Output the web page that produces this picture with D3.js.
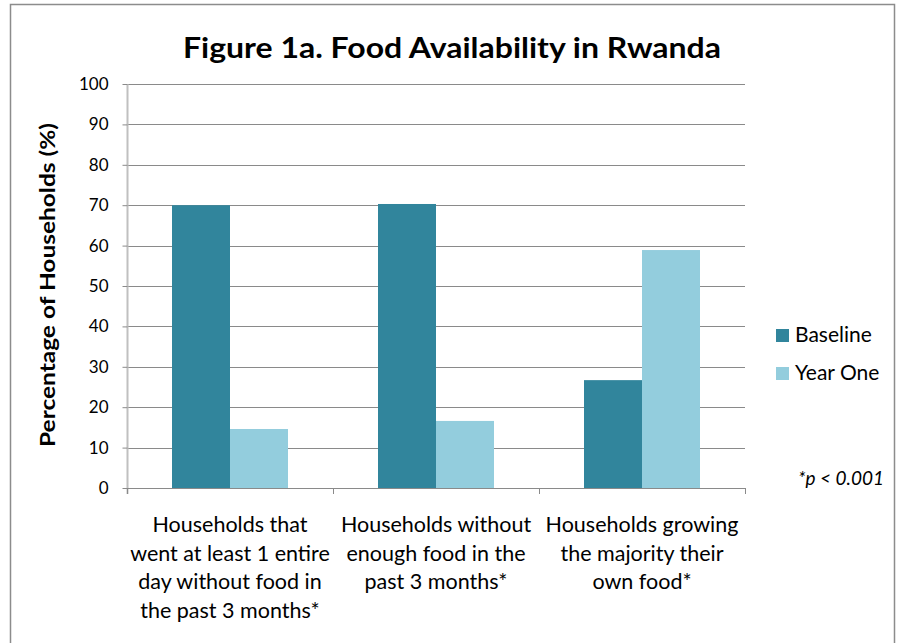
<!DOCTYPE html>
<html><head><meta charset="utf-8">
<script src="https://cdn.jsdelivr.net/npm/d3@7"></script>
<style>body{margin:0;background:#fff}svg{display:block}text{font-family:Lato,"Open Sans",sans-serif;fill:#000}</style>
</head><body><svg id="c" width="900" height="643"></svg>
<script>
const categories = [
  ["Households that","went at least 1 entire","day without food in","the past 3 months*"],
  ["Households without","enough food in the","past 3 months*"],
  ["Households growing","the majority their","own food*"]
];
const seriesNames = ["Baseline","Year One"];
const baseline = [70.0, 70.3, 26.7];
const yearOne = [14.6, 16.6, 58.9];
const yTicks = [0,10,20,30,40,50,60,70,80,90,100];
const colors = ["#31859C","#93CDDD"];

const svg = d3.select("#c");
// outer frame
svg.append("path").attr("d","M10.5,650 V4.5 H894.5 V650").attr("fill","none").attr("stroke","#8c8c8c").attr("stroke-width",1.5);

const x0 = d3.scaleBand().domain(d3.range(3)).range([127,745]).paddingInner(0).paddingOuter(0);
const x1 = d3.scaleBand().domain(seriesNames).range([45, 206-45]);
const y = d3.scaleLinear().domain([0,100]).range([488,84]);

// gridlines
svg.append("g").selectAll("line").data(yTicks.filter(d=>d>0)).join("line")
  .attr("x1",127).attr("x2",745).attr("y1",d=>Math.round(y(d))+0.5).attr("y2",d=>Math.round(y(d))+0.5)
  .attr("stroke","#8a8a8a").attr("stroke-width",1);

// y axis
const yAxis = d3.axisLeft(y).tickValues(yTicks).tickSize(5).tickPadding(14);
const ga = svg.append("g").attr("transform","translate(127.5,0)").call(yAxis);
ga.select(".domain").attr("stroke","#c0c0c0").attr("stroke-width",2).attr("d","M0,84V494");
ga.selectAll(".tick line").attr("stroke","#8a8a8a");
ga.selectAll(".tick text").attr("font-size",17).attr("font-family","Lato,sans-serif").attr("fill","#222");

// bars
const data = d3.range(3).map(i=>[{s:seriesNames[0],v:baseline[i]},{s:seriesNames[1],v:yearOne[i]}]);
svg.append("g").selectAll("g").data(data).join("g")
  .attr("transform",(d,i)=>`translate(${x0(i)},0)`)
  .selectAll("rect").data(d=>d).join("rect")
  .attr("x",d=>x1(d.s)).attr("width",x1.bandwidth())
  .attr("y",d=>y(d.v)).attr("height",d=>y(0)-y(d.v))
  .attr("fill",(d,i)=>colors[i]);

// x axis line & category ticks
svg.append("line").attr("x1",127).attr("x2",745).attr("y1",488.5).attr("y2",488.5).attr("stroke","#8a8a8a");
svg.append("g").selectAll("line").data([0,1,2,3]).join("line")
  .attr("x1",d=>Math.round(127+d*x0.bandwidth())+0.5).attr("x2",d=>Math.round(127+d*x0.bandwidth())+0.5)
  .attr("y1",488).attr("y2",494).attr("stroke","#8a8a8a");

// category labels
svg.append("g").selectAll("text").data(categories).join("text")
  .attr("text-anchor","middle").attr("font-size",21.5).attr("fill","#111")
  .each(function(lines,i){
    d3.select(this).selectAll("tspan").data(lines).join("tspan")
      .attr("x",x0(i)+x0.bandwidth()/2).attr("y",(d,j)=>532+j*28.7).text(d=>d);
  });

// title
svg.append("text").attr("x",452).attr("y",58).attr("text-anchor","middle")
  .attr("font-size",29).attr("font-weight","bold")
  .attr("textLength",538).attr("lengthAdjust","spacingAndGlyphs")
  .text("Figure 1a. Food Availability in Rwanda");

// y title
svg.append("text").attr("transform","translate(55,285) rotate(-90)").attr("text-anchor","middle")
  .attr("font-size",20).attr("font-weight","bold")
  .attr("textLength",324).attr("lengthAdjust","spacingAndGlyphs")
  .text("Percentage of Households (%)");

// legend
const lg = svg.append("g").selectAll("g").data(seriesNames).join("g")
  .attr("transform",(d,i)=>`translate(776,${329+i*38})`);
lg.append("rect").attr("width",13).attr("height",13).attr("fill",(d,i)=>colors[i]);
lg.append("text").attr("x",19).attr("y",13).attr("font-size",21).attr("fill","#111").text(d=>d);

// note
svg.append("text").attr("x",884).attr("y",485).attr("text-anchor","end")
  .attr("font-size",19).attr("font-style","italic").attr("fill","#111").text("*p < 0.001");
</script></body></html>
